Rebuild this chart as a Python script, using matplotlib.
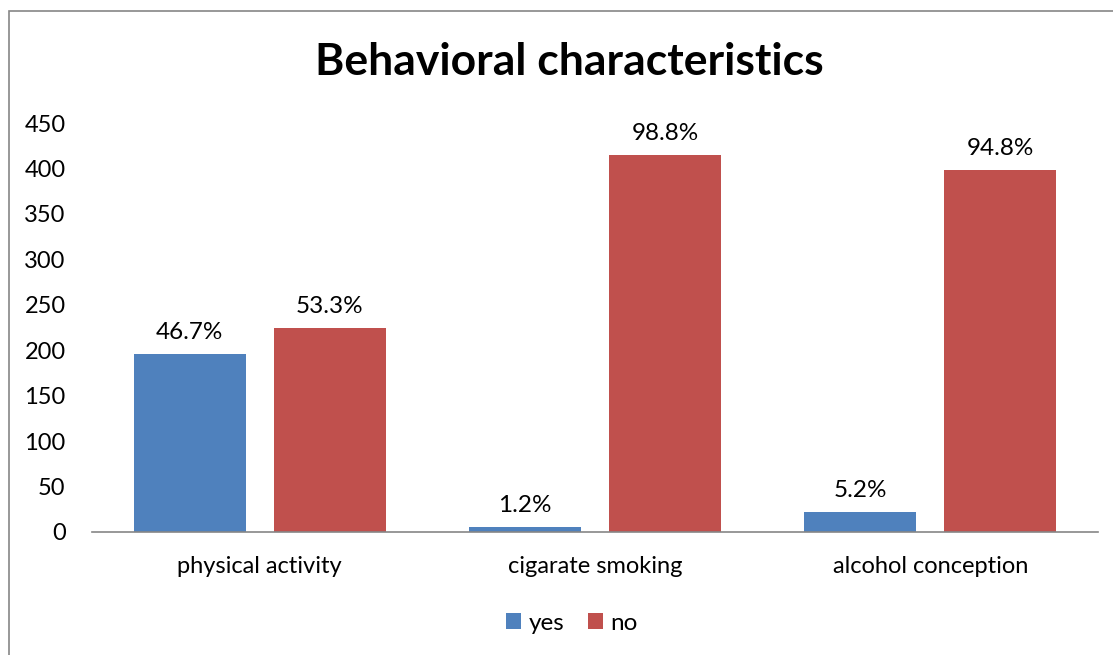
import numpy as np
import matplotlib.pyplot as plt
from matplotlib.patches import Rectangle

categories = ["physical activity", "cigarate smoking", "alcohol conception"]
yes_vals = [196, 5, 22]
no_vals = [224, 415, 398]
yes_labels = ["46.7%", "1.2%", "5.2%"]
no_labels = ["53.3%", "98.8%", "94.8%"]

plt.rcParams['font.family'] = ['Lato', 'DejaVu Sans']

W, H = 1113, 655
fig = plt.figure(figsize=(W / 100, H / 100), dpi=100)
ax = fig.add_axes([92 / W, 1 - 532 / H, (1098 - 92) / W, (532 - 123) / H])

x = np.arange(len(categories)) + 0.5
bw = 0.334
b1 = ax.bar(x - 0.209, yes_vals, bw, color="#4F81BD", label="yes")
b2 = ax.bar(x + 0.209, no_vals, bw, color="#C0504D", label="no")

for bars, labs in ((b1, yes_labels), (b2, no_labels)):
    for r, t in zip(bars, labs):
        ax.annotate(t, (r.get_x() + r.get_width() / 2, r.get_height()),
                    xytext=(0, 8), textcoords="offset points",
                    ha="center", va="bottom", fontsize=17.5)

ax.set_xlim(0, 3)
ax.set_ylim(0, 450)
ax.set_yticks(range(0, 451, 50))
ax.set_xticks(x)
ax.set_xticklabels(categories)
ax.tick_params(axis="both", length=0, labelsize=17)
ax.tick_params(axis="x", pad=17)
ax.tick_params(axis="y", pad=19)
for s in ["top", "right", "left"]:
    ax.spines[s].set_visible(False)
ax.spines["bottom"].set_color("#868686")
ax.spines["bottom"].set_linewidth(1.2)

fig.text(569 / W, 1 - 62 / H, "Behavioral characteristics", ha="center", va="center",
         fontsize=32, fontweight="bold")

fig.legend(handles=[b1, b2], loc="center", bbox_to_anchor=(572 / W, 1 - 623 / H),
           ncol=2, frameon=False, fontsize=17.5, handlelength=0.6, handleheight=0.6,
           handletextpad=0.3, columnspacing=1.0)

fig.patches.append(Rectangle((9 / W, -0.1), 2, 1 - 11 / H + 0.1, transform=fig.transFigure,
                             fill=False, edgecolor="#868686", linewidth=1.2))

fig.savefig("out.png", dpi=100)
